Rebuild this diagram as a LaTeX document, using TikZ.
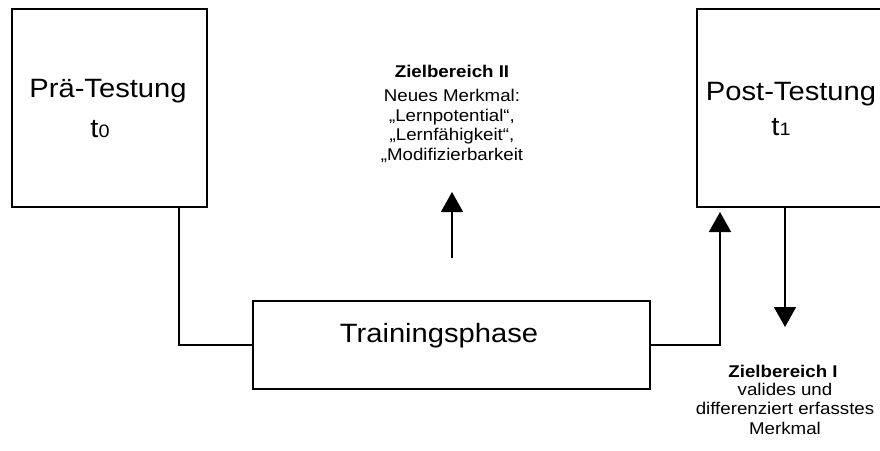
\documentclass[tikz,border=0pt]{standalone}
\usepackage{fontspec}
\setmainfont{Liberation Sans}[FakeStretch=1.1]
\usetikzlibrary{arrows.meta}
\tikzset{
  box/.style={draw,line width=1.6pt,inner sep=0pt,outer sep=0pt},
  big/.style={font=\fontsize{26.5}{30}\selectfont,anchor=base},
  small/.style={font=\fontsize{17}{19.5}\selectfont,align=center,anchor=base},
  conn/.style={line width=1.5pt},
  arr/.style={conn,-{Triangle[width=22pt,length=20pt]}}
}
\begin{document}
\begin{tikzpicture}[x=1pt,y=-1pt]
    \clip (0,0) rectangle (880,450);
    \fill[white] (0,0) rectangle (880,450);
    \node[box,minimum width=195pt,minimum height=198pt] (pre) at (109.5,108) {};
    \node[box,minimum width=195pt,minimum height=198pt] (post) at (794.5,108) {};
    \node[box,minimum width=397pt,minimum height=88pt] (train) at (451.5,345) {};
    \node[big] (pretxt) at (108,97) {Prä-Testung};
    \node[big] (pret) at (100,137) {t{\fontsize{18}{18}\selectfont 0}};
    \node[big] (posttxt) at (791,100) {Post-Testung};
    \node[big] (postt) at (781,135) {t{\fontsize{18}{18}\selectfont 1}};
    \node[big] (traintxt) at (439,342) {Trainingsphase};
    \node[small,font=\fontsize{17}{19.5}\selectfont\bfseries] (zb2) at (452,77) {Zielbereich II};
    \node[small] (zb2txt) at (452,160) {Neues Merkmal:\\„Lernpotential“,\\„Lernfähigkeit“,\\„Modifizierbarkeit};
    \node[small,font=\fontsize{17}{19.5}\selectfont\bfseries] (zb1) at (783,377) {Zielbereich I};
    \node[small] (zb1txt) at (785,434) {valides und\\differenziert erfasstes\\Merkmal};
    \coordinate (mstart) at (452,258);
    \coordinate (mtip) at (452,192);
    \coordinate (dtip) at (785,327);
    \draw[conn] ([xshift=-28pt]pre.south east) |- (train.west);
    \draw[arr,shorten >=5pt] (train.east) -| ([xshift=23pt]post.south west);
    \draw[arr] (mstart) -- (mtip);
    \draw[arr] ([xshift=88pt]post.south west) -- (dtip);
  \end{tikzpicture}
\end{document}
